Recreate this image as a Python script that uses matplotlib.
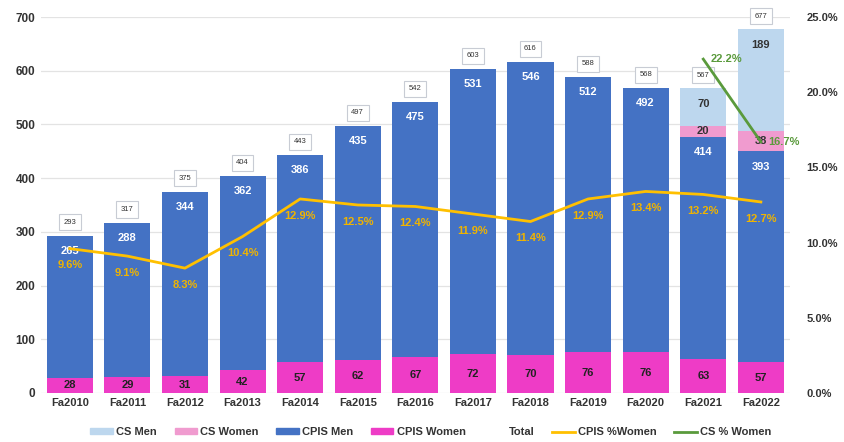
import numpy as np
import matplotlib.pyplot as plt
from matplotlib.lines import Line2D
from matplotlib.patches import Patch

plt.rcParams['font.family'] = ['Liberation Sans', 'DejaVu Sans']

# enrolment by fall term
terms = ['Fa2010', 'Fa2011', 'Fa2012', 'Fa2013', 'Fa2014', 'Fa2015', 'Fa2016',
         'Fa2017', 'Fa2018', 'Fa2019', 'Fa2020', 'Fa2021', 'Fa2022']
cpis_women = [28, 29, 31, 42, 57, 62, 67, 72, 70, 76, 76, 63, 57]
cpis_men = [265, 288, 344, 362, 386, 435, 475, 531, 546, 512, 492, 414, 393]
cs_women = [0, 0, 0, 0, 0, 0, 0, 0, 0, 0, 0, 20, 38]
cs_men = [0, 0, 0, 0, 0, 0, 0, 0, 0, 0, 0, 70, 189]
totals = [293, 317, 375, 404, 443, 497, 542, 603, 616, 588, 568, 567, 677]
cpis_pct = [9.6, 9.1, 8.3, 10.4, 12.9, 12.5, 12.4, 11.9, 11.4, 12.9, 13.4, 13.2, 12.7]
cs_terms = ['Fa2021', 'Fa2022']
cs_pct = [22.2, 16.7]

c_cs_men = '#BDD7EE'
c_cs_women = '#F09BCF'
c_cpis_men = '#4472C4'
c_cpis_women = '#EE3CC6'
c_yellow = '#FFC000'
c_green = '#5A9A3C'

fig = plt.figure(figsize=(8.45, 4.42), dpi=100)
ax = fig.add_axes([0.0485, 0.111, 0.886, 0.8505])
x = np.arange(len(terms))
w = 0.8

cpw = np.array(cpis_women)
cpm = np.array(cpis_men)
csw = np.array(cs_women)
csm = np.array(cs_men)

ax.bar(x, cpw, w, color=c_cpis_women, zorder=2)
ax.bar(x, cpm, w, bottom=cpw, color=c_cpis_men, zorder=2)
ax.bar(x, csw, w, bottom=cpw + cpm, color=c_cs_women, zorder=2)
ax.bar(x, csm, w, bottom=cpw + cpm + csw, color=c_cs_men, zorder=2)

lbl = dict(ha='center', va='center', fontsize=8, fontweight='bold')
for i in range(len(terms)):
    ax.text(x[i], cpw[i] / 2, str(cpw[i]), color='#222222', **lbl)
    ax.annotate(str(cpm[i]), (x[i], cpw[i] + cpm[i]), xytext=(0, -11),
                textcoords='offset points', color='white', **lbl)
    if csw[i]:
        ax.text(x[i], cpw[i] + cpm[i] + csw[i] / 2, str(csw[i]),
                color='#333333', **lbl)
    if csm[i]:
        ax.annotate(str(csm[i]), (x[i], totals[i]), xytext=(0, -11),
                    textcoords='offset points', color='#333333', **lbl)
    ax.annotate(str(totals[i]), (x[i], totals[i]), xytext=(0, 9.5),
                textcoords='offset points', ha='center', va='center',
                fontsize=5.5, color='#333333', annotation_clip=False,
                bbox=dict(boxstyle='square,pad=0.6', fc='white',
                          ec='#C8CCD4', lw=0.8))

ax.set_ylim(0, 700)
ax.set_xlim(-0.5, len(terms) - 0.5)
ax.set_yticks(np.arange(0, 701, 100))
ax.set_xticks(x)
ax.set_xticklabels(terms, fontsize=8, fontweight='bold', color='#333333')
for t in ax.get_yticklabels():
    t.set_fontsize(8.5)
    t.set_fontweight('bold')
    t.set_color('#333333')
ax.tick_params(length=0, pad=4)
ax.grid(axis='y', color='#E3E3E3', lw=0.9, zorder=0)
ax.set_axisbelow(True)
for s in ax.spines.values():
    s.set_visible(False)

# percentage of women on the right axis
ax2 = ax.twinx()
ax2.set_ylim(0, 25)
ax2.set_yticks(np.arange(0, 26, 5))
ax2.set_yticklabels([f'{v:.1f}%' for v in np.arange(0, 26, 5)],
                    fontsize=8, fontweight='bold', color='#333333')
ax2.tick_params(length=0, pad=12)
for s in ax2.spines.values():
    s.set_visible(False)

ax2.plot(x, cpis_pct, color=c_yellow, lw=2, zorder=3)
for i, v in enumerate(cpis_pct):
    ax2.annotate(f'{v:.1f}%', (x[i], v), xytext=(0, -12),
                 textcoords='offset points', ha='center', va='center',
                 fontsize=8, fontweight='bold', color='#F0B400')

xcs = [terms.index(t) for t in cs_terms]
ax2.plot(xcs, cs_pct, color=c_green, lw=2, zorder=3)
for xi, v in zip(xcs, cs_pct):
    ax2.annotate(f'{v:.1f}%', (xi, v), xytext=(5, 0),
                 textcoords='offset points', ha='left', va='center',
                 fontsize=8, fontweight='bold', color=c_green)

handles = [
    Patch(color=c_cs_men, label='CS Men'),
    Patch(color=c_cs_women, label='CS Women'),
    Patch(color=c_cpis_men, label='CPIS Men'),
    Patch(color=c_cpis_women, label='CPIS Women'),
    Line2D([], [], color='none', label='Total'),
    Line2D([], [], color=c_yellow, lw=2, label='CPIS %Women'),
    Line2D([], [], color=c_green, lw=2, label='CS % Women'),
]
leg = fig.legend(handles=handles, loc='center', bbox_to_anchor=(0.51, 0.022),
                 ncol=7, frameon=False,
                 prop={'size': 8, 'weight': 'bold'}, handlelength=2.0,
                 handleheight=0.5, handletextpad=0.3, columnspacing=1.6)
for t in leg.get_texts():
    t.set_color('#333333')

fig.savefig('out.png', dpi=100)
